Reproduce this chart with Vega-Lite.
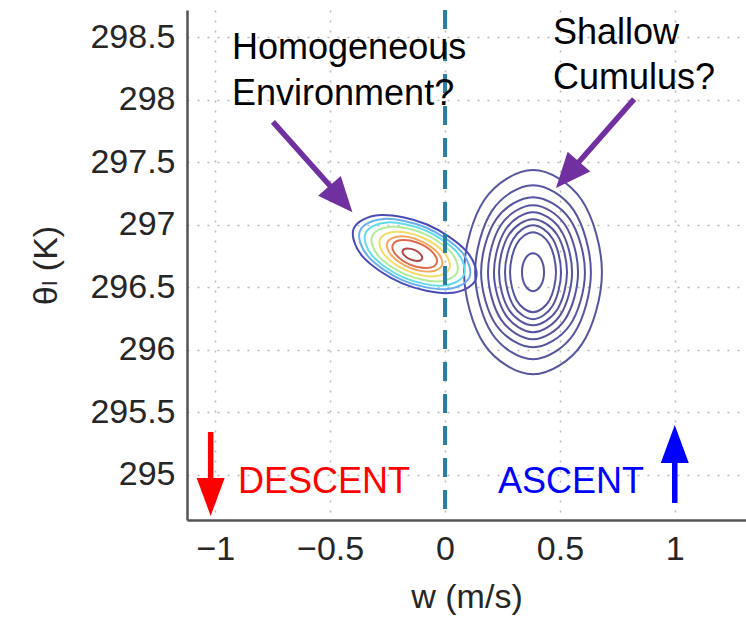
{
  "$schema": "https://vega.github.io/schema/vega-lite/v6.json",
  "width": 559,
  "height": 510,
  "autosize": {"type": "none"},
  "padding": {"left": 187, "top": 10, "right": 0, "bottom": 98},
  "background": "white",
  "datasets": {
    "contours": [
      {"c":"C1","i":0,"w":0.683,"t":296.620},{"c":"C1","i":1,"w":0.595,"t":297.197},{"c":"C1","i":2,"w":0.383,"t":297.436},{"c":"C1","i":3,"w":0.171,"t":297.197},{"c":"C1","i":4,"w":0.083,"t":296.620},{"c":"C1","i":5,"w":0.171,"t":296.043},{"c":"C1","i":6,"w":0.383,"t":295.804},{"c":"C1","i":7,"w":0.595,"t":296.043},
      {"c":"C2","i":0,"w":0.635,"t":296.620},{"c":"C2","i":1,"w":0.561,"t":297.112},{"c":"C2","i":2,"w":0.383,"t":297.316},{"c":"C2","i":3,"w":0.205,"t":297.112},{"c":"C2","i":4,"w":0.131,"t":296.620},{"c":"C2","i":5,"w":0.205,"t":296.128},{"c":"C2","i":6,"w":0.383,"t":295.924},{"c":"C2","i":7,"w":0.561,"t":296.128},
      {"c":"C3","i":0,"w":0.609,"t":296.620},{"c":"C3","i":1,"w":0.543,"t":297.044},{"c":"C3","i":2,"w":0.383,"t":297.220},{"c":"C3","i":3,"w":0.223,"t":297.044},{"c":"C3","i":4,"w":0.157,"t":296.620},{"c":"C3","i":5,"w":0.223,"t":296.196},{"c":"C3","i":6,"w":0.383,"t":296.020},{"c":"C3","i":7,"w":0.543,"t":296.196},
      {"c":"C4","i":0,"w":0.579,"t":296.620},{"c":"C4","i":1,"w":0.522,"t":296.999},{"c":"C4","i":2,"w":0.383,"t":297.156},{"c":"C4","i":3,"w":0.244,"t":296.999},{"c":"C4","i":4,"w":0.187,"t":296.620},{"c":"C4","i":5,"w":0.244,"t":296.241},{"c":"C4","i":6,"w":0.383,"t":296.084},{"c":"C4","i":7,"w":0.522,"t":296.241},
      {"c":"C5","i":0,"w":0.553,"t":296.620},{"c":"C5","i":1,"w":0.503,"t":296.959},{"c":"C5","i":2,"w":0.383,"t":297.100},{"c":"C5","i":3,"w":0.263,"t":296.959},{"c":"C5","i":4,"w":0.213,"t":296.620},{"c":"C5","i":5,"w":0.263,"t":296.281},{"c":"C5","i":6,"w":0.383,"t":296.140},{"c":"C5","i":7,"w":0.503,"t":296.281},
      {"c":"C6","i":0,"w":0.531,"t":296.620},{"c":"C6","i":1,"w":0.488,"t":296.920},{"c":"C6","i":2,"w":0.383,"t":297.044},{"c":"C6","i":3,"w":0.278,"t":296.920},{"c":"C6","i":4,"w":0.235,"t":296.620},{"c":"C6","i":5,"w":0.278,"t":296.320},{"c":"C6","i":6,"w":0.383,"t":296.196},{"c":"C6","i":7,"w":0.488,"t":296.320},
      {"c":"C7","i":0,"w":0.505,"t":296.620},{"c":"C7","i":1,"w":0.469,"t":296.886},{"c":"C7","i":2,"w":0.383,"t":296.996},{"c":"C7","i":3,"w":0.297,"t":296.886},{"c":"C7","i":4,"w":0.261,"t":296.620},{"c":"C7","i":5,"w":0.297,"t":296.354},{"c":"C7","i":6,"w":0.383,"t":296.244},{"c":"C7","i":7,"w":0.469,"t":296.354},
      {"c":"C8","i":0,"w":0.483,"t":296.620},{"c":"C8","i":1,"w":0.454,"t":296.846},{"c":"C8","i":2,"w":0.383,"t":296.940},{"c":"C8","i":3,"w":0.312,"t":296.846},{"c":"C8","i":4,"w":0.283,"t":296.620},{"c":"C8","i":5,"w":0.312,"t":296.394},{"c":"C8","i":6,"w":0.383,"t":296.300},{"c":"C8","i":7,"w":0.454,"t":296.394},
      {"c":"C9","i":0,"w":0.431,"t":296.620},{"c":"C9","i":1,"w":0.417,"t":296.727},{"c":"C9","i":2,"w":0.383,"t":296.772},{"c":"C9","i":3,"w":0.349,"t":296.727},{"c":"C9","i":4,"w":0.335,"t":296.620},{"c":"C9","i":5,"w":0.349,"t":296.513},{"c":"C9","i":6,"w":0.383,"t":296.468},{"c":"C9","i":7,"w":0.417,"t":296.513},
      {"c":"E1","i":0,"w":0.133,"t":296.559},{"c":"E1","i":1,"w":0.017,"t":296.453},{"c":"E1","i":2,"w":-0.186,"t":296.530},{"c":"E1","i":3,"w":-0.358,"t":296.744},{"c":"E1","i":4,"w":-0.397,"t":296.971},{"c":"E1","i":5,"w":-0.281,"t":297.077},{"c":"E1","i":6,"w":-0.078,"t":297.001},{"c":"E1","i":7,"w":0.094,"t":296.786},
      {"c":"E2","i":0,"w":0.106,"t":296.579},{"c":"E2","i":1,"w":0.002,"t":296.484},{"c":"E2","i":2,"w":-0.181,"t":296.553},{"c":"E2","i":3,"w":-0.335,"t":296.746},{"c":"E2","i":4,"w":-0.370,"t":296.951},{"c":"E2","i":5,"w":-0.266,"t":297.046},{"c":"E2","i":6,"w":-0.083,"t":296.977},{"c":"E2","i":7,"w":0.071,"t":296.784},
      {"c":"E3","i":0,"w":0.082,"t":296.598},{"c":"E3","i":1,"w":-0.012,"t":296.512},{"c":"E3","i":2,"w":-0.176,"t":296.574},{"c":"E3","i":3,"w":-0.315,"t":296.748},{"c":"E3","i":4,"w":-0.346,"t":296.932},{"c":"E3","i":5,"w":-0.252,"t":297.018},{"c":"E3","i":6,"w":-0.088,"t":296.956},{"c":"E3","i":7,"w":0.051,"t":296.782},
      {"c":"E4","i":0,"w":0.053,"t":296.621},{"c":"E4","i":1,"w":-0.028,"t":296.546},{"c":"E4","i":2,"w":-0.170,"t":296.600},{"c":"E4","i":3,"w":-0.290,"t":296.750},{"c":"E4","i":4,"w":-0.317,"t":296.909},{"c":"E4","i":5,"w":-0.236,"t":296.984},{"c":"E4","i":6,"w":-0.094,"t":296.930},{"c":"E4","i":7,"w":0.026,"t":296.780},
      {"c":"E5","i":0,"w":0.019,"t":296.648},{"c":"E5","i":1,"w":-0.047,"t":296.587},{"c":"E5","i":2,"w":-0.163,"t":296.631},{"c":"E5","i":3,"w":-0.261,"t":296.753},{"c":"E5","i":4,"w":-0.283,"t":296.883},{"c":"E5","i":5,"w":-0.217,"t":296.943},{"c":"E5","i":6,"w":-0.101,"t":296.899},{"c":"E5","i":7,"w":-0.004,"t":296.777},
      {"c":"E6","i":0,"w":-0.013,"t":296.672},{"c":"E6","i":1,"w":-0.065,"t":296.625},{"c":"E6","i":2,"w":-0.157,"t":296.659},{"c":"E6","i":3,"w":-0.234,"t":296.756},{"c":"E6","i":4,"w":-0.251,"t":296.858},{"c":"E6","i":5,"w":-0.199,"t":296.906},{"c":"E6","i":6,"w":-0.108,"t":296.871},{"c":"E6","i":7,"w":-0.031,"t":296.774},
      {"c":"E7","i":0,"w":-0.037,"t":296.691},{"c":"E7","i":1,"w":-0.079,"t":296.653},{"c":"E7","i":2,"w":-0.152,"t":296.680},{"c":"E7","i":3,"w":-0.213,"t":296.758},{"c":"E7","i":4,"w":-0.227,"t":296.839},{"c":"E7","i":5,"w":-0.186,"t":296.877},{"c":"E7","i":6,"w":-0.112,"t":296.850},{"c":"E7","i":7,"w":-0.051,"t":296.773},
      {"c":"E8","i":0,"w":-0.100,"t":296.727},{"c":"E8","i":1,"w":-0.118,"t":296.710},{"c":"E8","i":2,"w":-0.151,"t":296.722},{"c":"E8","i":3,"w":-0.178,"t":296.757},{"c":"E8","i":4,"w":-0.184,"t":296.793},{"c":"E8","i":5,"w":-0.166,"t":296.810},{"c":"E8","i":6,"w":-0.133,"t":296.798},{"c":"E8","i":7,"w":-0.106,"t":296.763}
    ],
    "shafts": [
      {"a":"red","w":-1.02,"t":295.343,"w2":-1.02,"t2":294.95},
      {"a":"blue","w":1.0,"t":294.775,"w2":1.0,"t2":295.14},
      {"a":"env","w":-0.749,"t":297.821,"w2":-0.488,"t2":297.285},
      {"a":"cum","w":0.823,"t":298.004,"w2":0.571,"t2":297.477}
    ],
    "notes": [
      {"txt":"Homogeneous","w":-0.927,"t":298.324,"g":"q"},
      {"txt":"Environment?","w":-0.927,"t":297.960,"g":"q"},
      {"txt":"Shallow","w":0.470,"t":298.447,"g":"q"},
      {"txt":"Cumulus?","w":0.470,"t":298.085,"g":"q"},
      {"txt":"DESCENT","w":-0.901,"t":294.855,"g":"down"},
      {"txt":"ASCENT","w":0.231,"t":294.855,"g":"up"}
    ]
  },
  "resolve": {"scale": {"color": "independent"}},
  "layer": [
    {
      "data": {"name": "contours"},
      "mark": {"type": "line", "interpolate": "cardinal-closed", "strokeWidth": 2},
      "encoding": {
        "x": {"field": "w", "type": "quantitative", "title": "w (m/s)",
              "scale": {"domain": [-1.123, 1.31], "nice": false, "zero": false},
              "axis": {"values": [-1, -0.5, 0, 0.5, 1], "format": "~g", "labelPadding": 12, "titlePadding": 14, "grid": true, "labelFlush": false, "labelOverlap": false}},
        "y": {"field": "t", "type": "quantitative", "title": "θₗ (K)",
              "scale": {"domain": [294.639, 298.716], "nice": false, "zero": false},
              "axis": {"values": [295, 295.5, 296, 296.5, 297, 297.5, 298, 298.5], "format": "~g", "labelPadding": 12, "titlePadding": 26, "grid": true, "labelFlush": false, "labelOverlap": false}},
        "detail": {"field": "c", "type": "nominal"},
        "order": {"field": "i", "type": "quantitative"},
        "color": {"field": "c", "type": "nominal", "legend": null,
                  "scale": {"domain": ["C1","C2","C3","C4","C5","C6","C7","C8","C9","E1","E2","E3","E4","E5","E6","E7","E8"],
                            "range": ["#55559f","#55559f","#55559f","#55559f","#55559f","#55559f","#55559f","#55559f","#55559f","#4a4ab8","#6aaef0","#62dde8","#b2ec98","#f4dc6a","#f6a860","#e06a4c","#b04848"]}}
      }
    },
    {
      "data": {"values": [{"w": 0}]},
      "mark": {"type": "rule", "strokeDash": [19, 13], "strokeWidth": 4, "color": "#2a7ea5"},
      "encoding": {
        "x": {"field": "w", "type": "quantitative"}
      }
    },
    {
      "data": {"name": "shafts"},
      "mark": {"type": "rule", "strokeWidth": 5.5, "strokeCap": "butt"},
      "encoding": {
        "x": {"field": "w", "type": "quantitative"},
        "y": {"field": "t", "type": "quantitative"},
        "x2": {"field": "w2"},
        "y2": {"field": "t2"},
        "color": {"field": "a", "type": "nominal", "legend": null,
                  "scale": {"domain": ["red","blue","env","cum"], "range": ["#ff0000","#0000ff","#7030a0","#7030a0"]}}
      }
    },
    {
      "data": {"values": [{"w": -1.02, "t": 294.823}]},
      "mark": {"type": "point", "shape": "M1,0L-1,-0.737L-1,0.737Z", "filled": true, "size": 1444, "angle": 90, "color": "#ff0000", "opacity": 1, "strokeWidth": 0},
      "encoding": {
        "x": {"field": "w", "type": "quantitative"},
        "y": {"field": "t", "type": "quantitative"}
      }
    },
    {
      "data": {"values": [{"w": 1.0, "t": 295.247}]},
      "mark": {"type": "point", "shape": "M1,0L-1,-0.737L-1,0.737Z", "filled": true, "size": 1444, "angle": 270, "color": "#0000ff", "opacity": 1, "strokeWidth": 0},
      "encoding": {
        "x": {"field": "w", "type": "quantitative"},
        "y": {"field": "t", "type": "quantitative"}
      }
    },
    {
      "data": {"values": [{"w": -0.453, "t": 297.205}]},
      "mark": {"type": "point", "shape": "M1,0L-1,-0.857L-1,0.857Z", "filled": true, "size": 1225, "angle": 49, "color": "#7030a0", "opacity": 1, "strokeWidth": 0},
      "encoding": {
        "x": {"field": "w", "type": "quantitative"},
        "y": {"field": "t", "type": "quantitative"}
      }
    },
    {
      "data": {"values": [{"w": 0.533, "t": 297.398}]},
      "mark": {"type": "point", "shape": "M1,0L-1,-0.857L-1,0.857Z", "filled": true, "size": 1225, "angle": 131, "color": "#7030a0", "opacity": 1, "strokeWidth": 0},
      "encoding": {
        "x": {"field": "w", "type": "quantitative"},
        "y": {"field": "t", "type": "quantitative"}
      }
    },
    {
      "data": {"name": "notes"},
      "mark": {"type": "text", "align": "left", "baseline": "alphabetic", "font": "Liberation Sans", "fontSize": 36},
      "encoding": {
        "x": {"field": "w", "type": "quantitative"},
        "y": {"field": "t", "type": "quantitative"},
        "text": {"field": "txt"},
        "color": {"field": "g", "type": "nominal", "legend": null,
                  "scale": {"domain": ["q","down","up"], "range": ["#000000","#ff0000","#0000ff"]}}
      }
    }
  ],
  "config": {
    "view": {"stroke": null},
    "axis": {
      "labelFont": "Liberation Sans",
      "labelFontSize": 34,
      "labelColor": "#262626",
      "titleFont": "Liberation Sans, DejaVu Sans",
      "titleFontSize": 34,
      "titleFontWeight": "normal",
      "titleColor": "#262626",
      "domainColor": "#555555",
      "domainWidth": 2.5,
      "ticks": false,
      "gridColor": "#b8b8b8",
      "gridDash": [2, 8],
      "gridWidth": 1.5
    }
  }
}
